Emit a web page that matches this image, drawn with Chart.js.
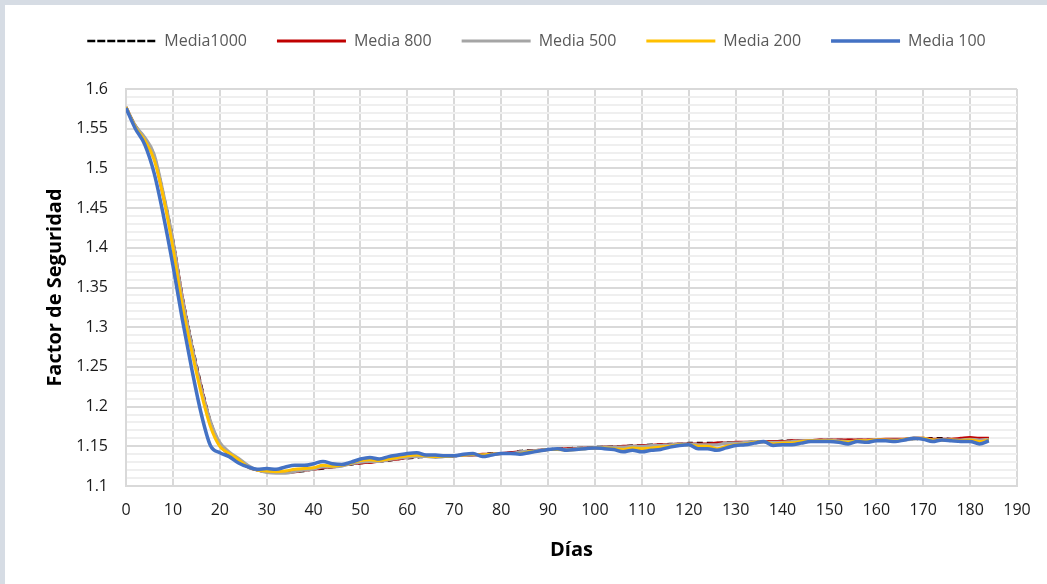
<!DOCTYPE html>
<html>
<head>
<meta charset="utf-8">
<script src="https://cdn.jsdelivr.net/npm/chart.js@4.4.1/dist/chart.umd.min.js"></script>
<style>
  html, body { margin: 0; padding: 0; background: #d6dce4; }
  #marco { position: absolute; left: 5px; top: 5px; width: 1042px; height: 579px; background: #ffffff; }
</style>
</head>
<body>
<div id="marco"><canvas id="fsChart"></canvas></div>
<script>
// dias de simulacion (cada 2 dias)
var dias = [
  0, 2, 4, 6, 8, 10, 12, 14, 16, 18,
  20, 22, 24, 26, 28, 30, 32, 34, 36, 38,
  40, 42, 44, 46, 48, 50, 52, 54, 56, 58,
  60, 62, 64, 66, 68, 70, 72, 74, 76, 78,
  80, 82, 84, 86, 88, 90, 92, 94, 96, 98,
  100, 102, 104, 106, 108, 110, 112, 114, 116, 118,
  120, 122, 124, 126, 128, 130, 132, 134, 136, 138,
  140, 142, 144, 146, 148, 150, 152, 154, 156, 158,
  160, 162, 164, 166, 168, 170, 172, 174, 176, 178,
  180, 182, 184
];

var media1000 = [
  1.577, 1.554, 1.538, 1.516, 1.467, 1.411, 1.340, 1.281, 1.228, 1.182,
  1.153, 1.141, 1.133, 1.125, 1.120, 1.118, 1.117, 1.117, 1.118, 1.119,
  1.121, 1.122, 1.124, 1.126, 1.127, 1.129, 1.130, 1.131, 1.132, 1.134,
  1.135, 1.136, 1.137, 1.137, 1.137, 1.138, 1.139, 1.139, 1.140, 1.141,
  1.141, 1.142, 1.144, 1.145, 1.145, 1.146, 1.147, 1.147, 1.148, 1.148,
  1.149, 1.149, 1.150, 1.150, 1.151, 1.151, 1.152, 1.152, 1.153, 1.153,
  1.154, 1.154, 1.154, 1.154, 1.155, 1.155, 1.155, 1.156, 1.156, 1.156,
  1.157, 1.157, 1.157, 1.157, 1.158, 1.158, 1.158, 1.158, 1.158, 1.158,
  1.158, 1.158, 1.159, 1.159, 1.159, 1.160, 1.160, 1.160, 1.159, 1.159,
  1.160, 1.160, 1.160
];

var media800 = [
  1.577, 1.553, 1.537, 1.514, 1.464, 1.408, 1.338, 1.277, 1.225, 1.180,
  1.152, 1.140, 1.132, 1.124, 1.120, 1.118, 1.117, 1.117, 1.118, 1.120,
  1.121, 1.123, 1.124, 1.126, 1.128, 1.129, 1.130, 1.131, 1.133, 1.134,
  1.136, 1.137, 1.137, 1.137, 1.137, 1.138, 1.139, 1.139, 1.140, 1.140,
  1.141, 1.142, 1.143, 1.144, 1.145, 1.146, 1.146, 1.147, 1.147, 1.148,
  1.148, 1.149, 1.149, 1.150, 1.150, 1.151, 1.151, 1.152, 1.152, 1.153,
  1.153, 1.153, 1.153, 1.154, 1.154, 1.155, 1.155, 1.155, 1.156, 1.156,
  1.156, 1.157, 1.157, 1.157, 1.158, 1.158, 1.158, 1.158, 1.158, 1.158,
  1.158, 1.159, 1.159, 1.159, 1.160, 1.160, 1.159, 1.159, 1.159, 1.160,
  1.161, 1.160, 1.160
];

var media500 = [
  1.577, 1.554, 1.539, 1.518, 1.468, 1.410, 1.338, 1.278, 1.224, 1.182,
  1.155, 1.143, 1.135, 1.126, 1.120, 1.117, 1.116, 1.116, 1.118, 1.120,
  1.121, 1.124, 1.124, 1.125, 1.128, 1.130, 1.131, 1.131, 1.133, 1.135,
  1.136, 1.137, 1.137, 1.136, 1.137, 1.138, 1.139, 1.139, 1.139, 1.140,
  1.141, 1.141, 1.143, 1.144, 1.145, 1.146, 1.146, 1.146, 1.147, 1.148,
  1.148, 1.149, 1.149, 1.149, 1.150, 1.150, 1.151, 1.151, 1.152, 1.153,
  1.153, 1.152, 1.152, 1.152, 1.154, 1.154, 1.155, 1.156, 1.155, 1.155,
  1.155, 1.156, 1.157, 1.157, 1.157, 1.158, 1.157, 1.156, 1.157, 1.157,
  1.158, 1.158, 1.158, 1.158, 1.159, 1.160, 1.158, 1.158, 1.158, 1.158,
  1.159, 1.158, 1.159
];

var media200 = [
  1.577, 1.552, 1.535, 1.511, 1.463, 1.400, 1.328, 1.270, 1.218, 1.175,
  1.150, 1.141, 1.133, 1.124, 1.120, 1.119, 1.118, 1.119, 1.121, 1.122,
  1.123, 1.126, 1.125, 1.126, 1.129, 1.132, 1.133, 1.132, 1.134, 1.136,
  1.138, 1.139, 1.138, 1.137, 1.137, 1.138, 1.139, 1.140, 1.139, 1.140,
  1.141, 1.141, 1.141, 1.143, 1.144, 1.146, 1.146, 1.145, 1.146, 1.147,
  1.148, 1.148, 1.147, 1.146, 1.148, 1.147, 1.148, 1.149, 1.150, 1.152,
  1.152, 1.150, 1.150, 1.147, 1.150, 1.152, 1.153, 1.155, 1.156, 1.153,
  1.154, 1.154, 1.156, 1.157, 1.157, 1.157, 1.156, 1.155, 1.157, 1.157,
  1.158, 1.158, 1.157, 1.159, 1.160, 1.160, 1.158, 1.158, 1.158, 1.157,
  1.158, 1.156, 1.158
];

var media100 = [
  1.576, 1.550, 1.530, 1.494, 1.440, 1.378, 1.310, 1.248, 1.192, 1.151,
  1.142, 1.137, 1.129, 1.124, 1.121, 1.122, 1.121, 1.124, 1.126, 1.126,
  1.128, 1.131, 1.128, 1.127, 1.130, 1.134, 1.136, 1.134, 1.137, 1.139,
  1.141, 1.142, 1.139, 1.139, 1.138, 1.138, 1.140, 1.141, 1.137, 1.139,
  1.141, 1.141, 1.140, 1.142, 1.144, 1.146, 1.147, 1.145, 1.146, 1.147,
  1.148, 1.147, 1.146, 1.143, 1.145, 1.143, 1.145, 1.146, 1.149, 1.151,
  1.152, 1.147, 1.147, 1.145, 1.148, 1.151, 1.152, 1.154, 1.156, 1.151,
  1.152, 1.152, 1.154, 1.156, 1.156, 1.156, 1.155, 1.153, 1.156, 1.155,
  1.157, 1.157, 1.156, 1.158, 1.160, 1.159, 1.156, 1.158, 1.157, 1.156,
  1.156, 1.153, 1.157
];

function puntos(valores) {
  return dias.map(function(d, i) { return { x: d, y: valores[i] }; });
}

function serie(nombre, valores, color, ancho, orden, guiones) {
  return {
    label: nombre,
    data: puntos(valores),
    borderColor: color,
    backgroundColor: color,
    borderWidth: ancho,
    borderDash: guiones || [],
    pointRadius: 0,
    cubicInterpolationMode: 'monotone',
    order: orden
  };
}

var fuente = "'Open Sans', sans-serif";

var ctx = document.getElementById('fsChart').getContext('2d');
var fsChart = new Chart(ctx, {
  type: 'line',
  data: {
    datasets: [
      serie('Media1000', media1000, '#000000', 2.5, 5, [6, 4]),
      serie('Media 800', media800, '#C00000', 3, 4),
      serie('Media 500', media500, '#A5A5A5', 3, 3),
      serie('Media 200', media200, '#FFC000', 3, 2),
      serie('Media 100', media100, '#4472C4', 3.5, 1)
    ]
  },
  options: {
    responsive: true,
    maintainAspectRatio: false,
    animation: false,
    layout: { padding: { left: 51, right: 30, top: -2, bottom: 0 } },
    plugins: {
      legend: {
        position: 'top',
        labels: {
          boxWidth: 69,
          boxHeight: 0,
          padding: 30,
          color: '#595959',
          font: { family: fuente, size: 16 },
          sort: function(a, b) { return a.datasetIndex - b.datasetIndex; }
        }
      },
      // separador entre la leyenda y el area del grafico
      title: {
        display: true,
        text: '',
        weight: 500,
        font: { size: 10 },
        padding: { top: 0, bottom: 18 }
      },
      tooltip: { enabled: false }
    },
    scales: {
      x: {
        type: 'linear',
        min: 0,
        max: 190,
        ticks: {
          stepSize: 10,
          padding: 15,
          color: '#1a1a1a',
          font: { family: fuente, size: 16 }
        },
        grid: { color: '#d9d9d9', lineWidth: 2, drawTicks: false },
        border: { color: '#d9d9d9', width: 2 },
        title: {
          display: true,
          text: 'Días',
          color: '#000000',
          font: { family: fuente, size: 20, weight: 'bold' },
          padding: { top: 0, bottom: 22 }
        },
        afterFit: function(scale) { scale.height = 98; }
      },
      y: {
        min: 1.1,
        max: 1.6,
        ticks: {
          stepSize: 0.01,
          autoSkip: false,
          maxTicksLimit: 100,
          padding: 18,
          color: '#1a1a1a',
          font: { family: fuente, size: 16 },
          callback: function(v) {
            var c = Math.round(v * 100);
            return c % 5 === 0 ? String(c / 100) : '';
          }
        },
        grid: {
          drawTicks: false,
          color: function(c) {
            return Math.round(c.tick.value * 100) % 5 === 0 ? '#d9d9d9' : '#efefef';
          },
          lineWidth: 2
        },
        border: { color: '#d9d9d9', width: 2 },
        title: {
          display: true,
          text: 'Factor de Seguridad',
          color: '#000000',
          font: { family: fuente, size: 20, weight: 'bold' },
          padding: { top: -13, bottom: 0 }
        },
        afterFit: function(scale) { scale.width = 70; }
      }
    }
  }
});
</script>
</body>
</html>
